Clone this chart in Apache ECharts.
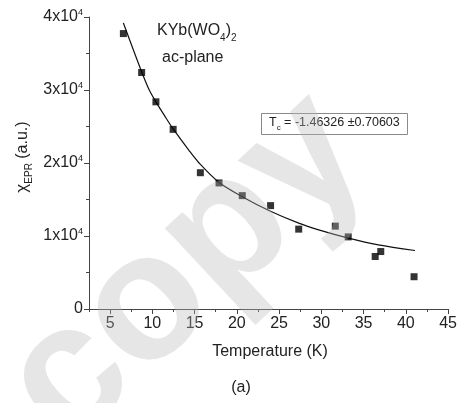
<!DOCTYPE html>
<html>
<head>
<meta charset="utf-8">
<script src="https://cdn.jsdelivr.net/npm/echarts@6/dist/echarts.min.js"></script>
<style>
  html, body { margin: 0; padding: 0; background: #fff; }
  #chart { width: 460px; height: 403px; }
</style>
</head>
<body>
<div id="chart"></div>
<script>
// Measured EPR susceptibility of KYb(WO4)2, ac-plane
const temperature = [6.57, 8.73, 10.42, 12.46, 15.68, 17.89, 20.64, 23.99, 27.32, 31.65, 33.18, 36.37, 37.03, 40.97];
const chiEPR = [37730, 32400, 28380, 24610, 18670, 17270, 15530, 14160, 10940, 11350, 9880, 7190, 7870, 4420];

// Curie-Weiss fit curve, sampled along its length
const fitTemperature = [6.57, 8.66, 9.63, 10.42, 11.40, 12.38, 14.35, 15.53, 17.89, 20.64, 23.79, 27.32, 29.68, 33.21, 36.75, 41.08];
const fitChi = [39180, 32710, 30000, 28380, 26560, 24800, 21700, 20000, 17330, 15390, 13500, 11760, 10840, 9710, 8790, 8010];

// Axis ticks
const xMajorTicks = [5, 10, 15, 20, 25, 30, 35, 40, 45];
const yMajorTicks = [0, 10000, 20000, 30000, 40000];

const FONT = '"Liberation Sans", Arial, sans-serif';
const AXIS_COLOR = '#444';
const TEXT_COLOR = '#222';

const chart = echarts.init(document.getElementById('chart'), null, { renderer: 'canvas' });

const points = temperature.map((t, i) => [t, chiEPR[i]]);
const fitLine = fitTemperature.map((t, i) => [t, fitChi[i]]);

chart.setOption({
  backgroundColor: '#fff',
  animation: false,
  grid: { left: 89, right: 10, top: 17, bottom: 94 },
  xAxis: [
    {
      type: 'value',
      min: 2.5,
      max: 45,
      axisLine: { show: true, lineStyle: { color: AXIS_COLOR, width: 1 } },
      axisTick: { show: true, length: 5, customValues: xMajorTicks, lineStyle: { color: AXIS_COLOR } },
      axisLabel: {
        show: true,
        customValues: xMajorTicks,
        margin: 7,
        color: TEXT_COLOR,
        fontSize: 16,
        fontFamily: FONT
      },
      splitLine: { show: false }
    },
    {
      // minor ticks every 2.5 K
      type: 'value',
      position: 'bottom',
      min: 2.5,
      max: 45,
      interval: 2.5,
      axisLine: { show: false },
      axisTick: { show: true, length: 3, lineStyle: { color: AXIS_COLOR } },
      axisLabel: { show: false },
      splitLine: { show: false }
    }
  ],
  yAxis: {
    type: 'value',
    min: 0,
    max: 40000,
    interval: 10000,
    axisLine: { show: true, lineStyle: { color: AXIS_COLOR, width: 1 } },
    axisTick: { show: true, length: 5, lineStyle: { color: AXIS_COLOR } },
    minorTick: { show: true, splitNumber: 2, length: 3, lineStyle: { color: AXIS_COLOR } },
    splitLine: { show: false },
    minorSplitLine: { show: false },
    axisLabel: {
      margin: 6,
      fontFamily: FONT,
      formatter: v => v === 0 ? '{n|0}' : '{n|' + (v / 10000) + 'x10}{e|4}',
      rich: {
        n: { fontSize: 16, lineHeight: 16, color: TEXT_COLOR, fontFamily: FONT, verticalAlign: 'bottom' },
        e: { fontSize: 9, lineHeight: 9, color: TEXT_COLOR, fontFamily: FONT, verticalAlign: 'bottom', padding: [0, 0, 8, 0] }
      }
    }
  },
  series: [
    {
      name: 'fit',
      type: 'line',
      data: fitLine,
      smooth: 0.3,
      showSymbol: false,
      symbol: 'none',
      lineStyle: { color: '#111', width: 1.2 },
      z: 2
    },
    {
      name: 'data',
      type: 'scatter',
      data: points,
      symbol: 'rect',
      symbolSize: 7,
      itemStyle: { color: '#000' },
      z: 3
    }
  ],
  graphic: [
    {
      type: 'text', x: 24, y: 157, rotation: Math.PI / 2,
      style: {
        text: '{c|χ}{s|EPR}{m| (a.u.)}',
        align: 'center', verticalAlign: 'middle',
        fill: TEXT_COLOR,
        rich: {
          c: { fontSize: 17, fontFamily: FONT, fill: TEXT_COLOR, verticalAlign: 'bottom', padding: [0, 0, 3, 0] },
          s: { fontSize: 10, fontFamily: FONT, fill: TEXT_COLOR, verticalAlign: 'bottom' },
          m: { fontSize: 16, fontFamily: FONT, fill: TEXT_COLOR, verticalAlign: 'bottom', padding: [0, 0, 3, 0] }
        }
      }
    },
    {
      type: 'text', x: 270, y: 352,
      style: { text: 'Temperature (K)', font: '16px ' + FONT, fill: TEXT_COLOR, align: 'center', verticalAlign: 'middle' }
    },
    {
      type: 'text', x: 241, y: 388,
      style: { text: '(a)', font: '16px ' + FONT, fill: TEXT_COLOR, align: 'center', verticalAlign: 'middle' }
    },
    {
      type: 'text', x: 157, y: 33,
      style: {
        text: '{m|KYb(WO}{s|4}{m|)}{s|2}',
        align: 'left', verticalAlign: 'middle',
        fill: TEXT_COLOR,
        rich: {
          m: { fontSize: 16, fontFamily: FONT, fill: TEXT_COLOR, verticalAlign: 'bottom', padding: [0, 0, 4, 0] },
          s: { fontSize: 10, fontFamily: FONT, fill: TEXT_COLOR, verticalAlign: 'bottom' }
        }
      }
    },
    {
      type: 'text', x: 162, y: 58,
      style: { text: 'ac-plane', font: '16px ' + FONT, fill: TEXT_COLOR, align: 'left', verticalAlign: 'middle' }
    },
    {
      type: 'rect',
      shape: { x: 261.5, y: 113.5, width: 146, height: 21 },
      style: { fill: 'none', stroke: '#8a8a8a', lineWidth: 1 }
    },
    {
      type: 'text', x: 269, y: 124,
      style: {
        text: '{m|T}{s|c}{m| = -1.46326 ±0.70603}',
        align: 'left', verticalAlign: 'middle',
        fill: TEXT_COLOR,
        rich: {
          m: { fontSize: 12.5, fontFamily: FONT, fill: TEXT_COLOR, verticalAlign: 'bottom', padding: [0, 0, 3, 0] },
          s: { fontSize: 8, fontFamily: FONT, fill: TEXT_COLOR, verticalAlign: 'bottom' }
        }
      }
    },
    {
      // "copy" watermark across the plot
      type: 'text', x: 187, y: 270, rotation: 0.75, z: 100,
      style: {
        text: 'copy',
        font: 'bold 180px ' + FONT,
        fill: 'rgba(183,183,183,0.35)',
        align: 'center', verticalAlign: 'middle'
      }
    }
  ]
});
</script>
</body>
</html>
